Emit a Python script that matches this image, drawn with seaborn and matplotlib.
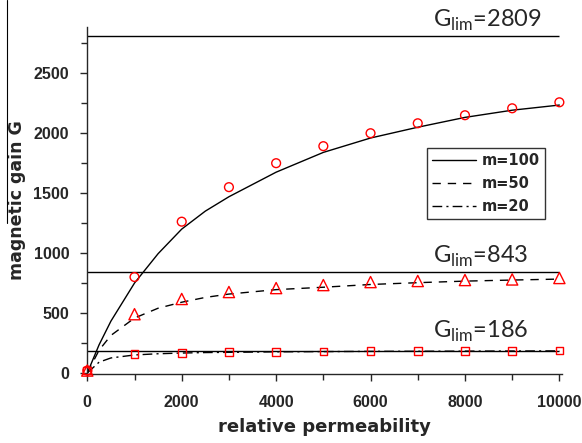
import numpy as np
import pandas as pd
import matplotlib
matplotlib.use("Agg")
import matplotlib.pyplot as plt
from matplotlib.lines import Line2D
import seaborn as sns

# measured points (red markers)
mu_pts = [0, 1000, 2000, 3000, 4000, 5000, 6000, 7000, 8000, 9000, 10000]
g100_pts = [20, 800, 1262, 1550, 1750, 1892, 2000, 2083, 2150, 2208, 2258]
g50_pts = [20, 490, 617, 675, 708, 733, 758, 767, 775, 780, 792]
g20_pts = [20, 160, 168, 175, 177, 180, 181, 182, 183, 184, 186]

# model curves (black lines)
mu_line = [0, 250, 500, 1000, 1500, 2000, 2500, 3000, 4000, 5000, 6000, 7000, 8000, 9000, 10000]
g100_line = [0, 235, 432, 750, 995, 1200, 1350, 1470, 1675, 1840, 1960, 2050, 2132, 2192, 2235]
g50_line = [0, 190, 313, 458, 540, 590, 630, 658, 695, 715, 738, 753, 766, 775, 783]
g20_line = [0, 90, 125, 150, 160, 166, 170, 172, 176, 178, 180, 181, 182, 183, 184]

series = ["m=100", "m=50", "m=20"]
glim = [2809, 843, 186]
glim_labels = ["2809", "843", "186"]

sns.set_style("ticks")
plt.rcParams["mathtext.fontset"] = "custom"
plt.rcParams["mathtext.rm"] = "Lato"

lines_df = pd.concat([
    pd.DataFrame({"mu": mu_line, "G": g, "m": s})
    for s, g in zip(series, [g100_line, g50_line, g20_line])
])

fig = plt.figure(figsize=(5.82, 4.43), dpi=100)
ax = fig.add_axes([0.150, 0.156, 0.816, 0.783])

sns.lineplot(data=lines_df, x="mu", y="G", style="m", style_order=series,
             dashes={"m=100": "", "m=50": (6, 5), "m=20": (7, 3, 1.5, 3)},
             color="black", linewidth=1.0, ax=ax, legend=True)

for s, g, mk, sz in zip(series, [g100_pts, g50_pts, g20_pts], ["o", "^", "s"], [40, 65, 30]):
    sns.scatterplot(x=mu_pts, y=g, marker=mk, s=sz, facecolor="none",
                    edgecolor="red", linewidth=1.0, ax=ax, zorder=3, clip_on=False)

ax.hlines(glim, 0, 10000, color="black", linewidth=1.0)
ypos = [2886, 919, 294]
for val, lab, yp in zip(glim, glim_labels, ypos):
    ax.text(7330, yp, r"G$_{\rm lim}$=" + lab, fontsize=17, family="Lato",
            ha="left", va="baseline")

ax.set_xlim(0, 10060)
ax.set_ylim(-8, 2886)
ax.set_xticks([0, 2000, 4000, 6000, 8000, 10000])
ax.set_xticks(np.arange(0, 10001, 1000), minor=True)
ax.set_yticks([0, 500, 1000, 1500, 2000, 2500])
ax.set_yticks(np.arange(0, 2751, 250), minor=True)
ax.tick_params(axis="both", which="major", length=5, width=1.0, direction="out")
ax.tick_params(axis="both", which="minor", length=4, width=1.0, direction="out")
ax.tick_params(axis="x", labelsize=11.5, pad=10)
ax.tick_params(axis="y", labelsize=11.5, pad=8)
for lbl in ax.get_xticklabels() + ax.get_yticklabels():
    lbl.set_fontweight("bold")
    lbl.set_family("Liberation Sans")

ax.set_xlabel("relative permeability", fontsize=13, fontweight="bold",
              family="DejaVu Sans", labelpad=6)
ax.set_ylabel("magnetic gain G", fontsize=12.5, fontweight="bold",
              family="DejaVu Sans")
ax.yaxis.set_label_coords(-0.129, 0.5)
sns.despine(ax=ax)
for sp in ["left", "bottom"]:
    ax.spines[sp].set_linewidth(1.0)

handles, labels = ax.get_legend_handles_labels()
hmap = dict(zip(labels, handles))
leg = ax.legend([hmap[s] for s in series], series, loc="upper left",
                bbox_to_anchor=(0.715, 0.651), borderaxespad=0, frameon=True,
                fancybox=False, edgecolor="black", handlelength=3.0,
                handletextpad=0.4, borderpad=0.35, labelspacing=0.55,
                prop={"family": "DejaVu Sans", "weight": "bold", "size": 10.5})
leg.get_frame().set_linewidth(1.0)

# thin stray border line at left edge of the original picture
fig.add_artist(Line2D([0.012, 0.012], [0.497, 1.0], color="black", linewidth=0.8))

fig.savefig("out.png", dpi=100)
